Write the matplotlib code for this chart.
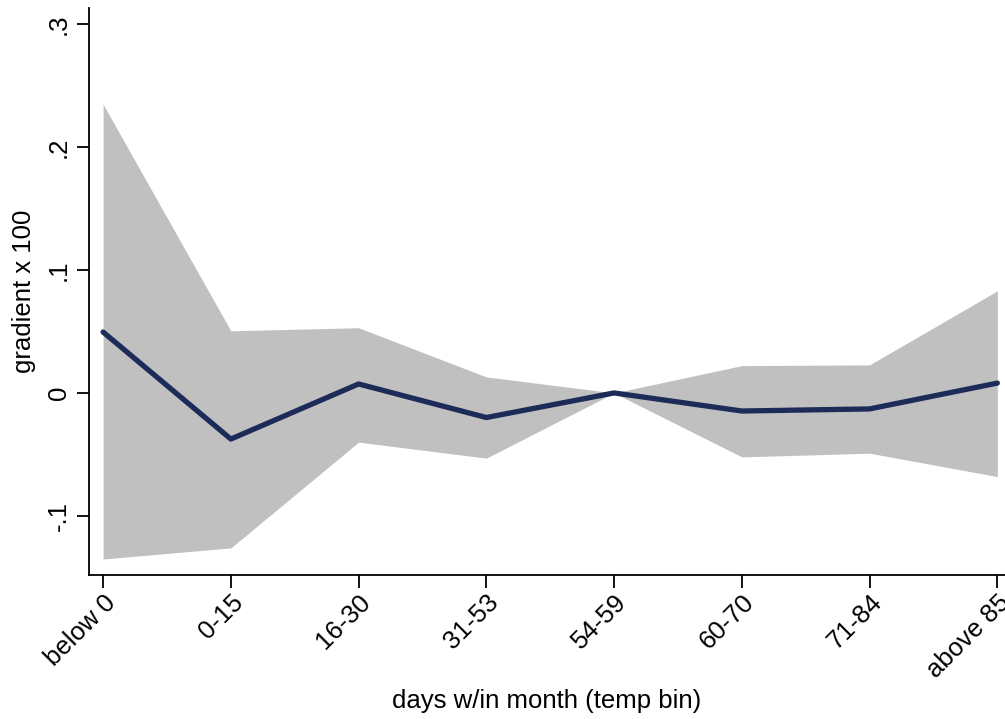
import numpy as np
import matplotlib.pyplot as plt

plt.rcParams['font.family'] = ['Liberation Sans', 'DejaVu Sans']

# temperature bins and estimated gradient (x100) with confidence band
bins = ['below 0', '0-15', '16-30', '31-53', '54-59', '60-70', '71-84', 'above 85']
coef = [0.0495, -0.0375, 0.0073, -0.0200, 0.0, -0.0147, -0.0130, 0.0080]
upper = [0.2347, 0.0505, 0.0530, 0.0130, 0.0, 0.0222, 0.0228, 0.0830]
lower = [-0.1350, -0.1260, -0.0400, -0.0530, 0.0, -0.0520, -0.0490, -0.0680]

xs = np.arange(len(bins))

fig = plt.figure(figsize=(10.05, 7.19), dpi=100)
ax = fig.add_axes([0.0886, 0.2003, 0.9114, 0.7887])

ax.fill_between(xs, lower, upper, color='#c0c0c0', linewidth=0)
ax.plot(xs, coef, color='#1c2b57', linewidth=3.8, solid_capstyle='round')

ax.set_xlim(-0.11, 7.06)
ax.set_ylim(-0.148, 0.313)
ax.set_yticks([-0.1, 0, 0.1, 0.2, 0.3])
ax.set_yticklabels(['-.1', '0', '.1', '.2', '.3'], rotation=90, va='center')
ax.set_xticks(xs)
ax.set_xticklabels(bins, rotation=45, ha='right', rotation_mode='anchor')

ax.tick_params(axis='both', labelsize=18.5, length=9, width=1.3, color='black')
ax.tick_params(axis='y', pad=4)
ax.tick_params(axis='x', pad=2)

for side in ['top', 'right']:
    ax.spines[side].set_visible(False)
for side in ['left', 'bottom']:
    ax.spines[side].set_linewidth(1.3)

ax.set_ylabel('gradient x 100', fontsize=18.5, labelpad=8)
ax.set_xlabel('days w/in month (temp bin)', fontsize=18.5, va='center')
ax.xaxis.set_label_coords(0.5, -0.222)

fig.savefig('out.png', dpi=100)
